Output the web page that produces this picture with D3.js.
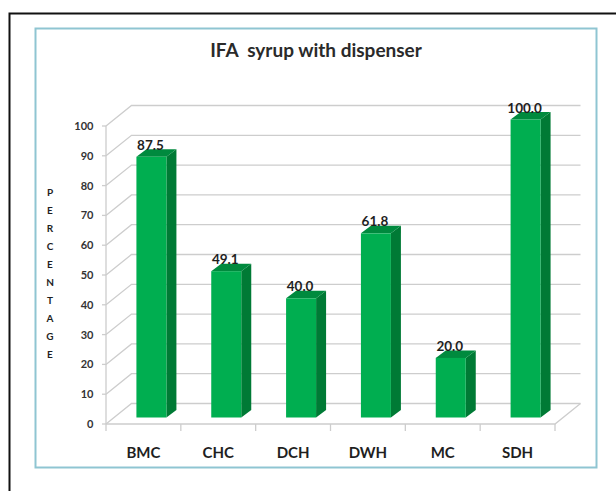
<!DOCTYPE html>
<html>
<head>
<meta charset="utf-8">
<script src="https://cdn.jsdelivr.net/npm/d3@7"></script>
<style>
  html, body { margin: 0; padding: 0; background: white; }
  svg { display: block; }
  text { font-family: Lato, "Open Sans", sans-serif; fill: #1f1f1f; }
</style>
</head>
<body>
<div id="chart"></div>
<script>
// values
const categories = ["BMC", "CHC", "DCH", "DWH", "MC", "SDH"];
const percentages = [87.5, 49.1, 40.0, 61.8, 20.0, 100.0];
const yTicks = [0, 10, 20, 30, 40, 50, 60, 70, 80, 90, 100];
const titleText = "IFA  syrup with dispenser";
const yAxisLabel = "PERCENTAGE";

const width = 616, height = 491;

const svg = d3.select("#chart")
  .append("svg")
  .attr("width", width)
  .attr("height", height);

// outer black frame runs off the right and bottom of the image
svg.append("path")
  .attr("d", `M${width},13.5 H9.5 V${height}`)
  .attr("fill", "none")
  .attr("stroke", "#111")
  .attr("stroke-width", 2);

// teal chart box
svg.append("rect")
  .attr("x", 35.5).attr("y", 28.5)
  .attr("width", 561).attr("height", 439)
  .attr("fill", "white")
  .attr("stroke", "#8fc5d2")
  .attr("stroke-width", 2);

// front plane of the fake 3D box
const x = d3.scaleBand().domain(categories).range([106, 555]);
const y = d3.scaleLinear().domain([0, 100]).range([424, 126]);

// depth of the chart floor, and of each bar
const wallDx = 25.5, wallDy = -20.5;
const barShift = { x: 8, y: -6.5 };
const barW = 30, barDx = 10, barDy = -7.5;

const grid = svg.append("g")
  .attr("fill", "none")
  .attr("stroke", "#cdcdcd")
  .attr("stroke-width", 1.3);

// back wall lines + diagonal on the left side
yTicks.forEach(t => {
  grid.append("path")
    .attr("d", `M106,${y(t)} L${106 + wallDx},${y(t) + wallDy} H${555 + wallDx}`);
});

// floor front edge and right diagonal
grid.append("path")
  .attr("d", `M106,${y(0)} H555 L${555 + wallDx},${y(0) + wallDy}`);
grid.append("path")
  .attr("d", `M106,${y(100)} V${y(0)}`);

// tick marks
yTicks.forEach(t => {
  grid.append("path").attr("d", `M102,${y(t)} H106`);
});
x.domain().concat("end").forEach((c, i) => {
  const px = 106 + i * x.step();
  grid.append("path").attr("d", `M${px},${y(0)} V${y(0) + 7}`);
});

// bars: front, side and top faces
const barX = d => x(d.cat) + (x.bandwidth() - barW) / 2 + barShift.x;
const barTop = d => y(d.val) + barShift.y;
const barBase = y(0) + barShift.y;

const rows = categories.map((cat, i) => ({ cat, val: percentages[i] }));

const bars = svg.selectAll(".bar")
  .data(rows)
  .enter().append("g")
  .attr("class", "bar");

bars.append("path")
  .attr("fill", "#007a35")
  .attr("d", d => `M${barX(d) + barW},${barTop(d)} l${barDx},${barDy} V${barBase + barDy} l${-barDx},${-barDy} Z`);

bars.append("path")
  .attr("fill", "#008a3e")
  .attr("d", d => `M${barX(d)},${barTop(d)} l${barDx},${barDy} h${barW} l${-barDx},${-barDy} Z`);

bars.append("rect")
  .attr("fill", "#00ae50")
  .attr("x", barX)
  .attr("y", barTop)
  .attr("width", barW)
  .attr("height", d => barBase - barTop(d));

// value labels
svg.selectAll(".value")
  .data(rows)
  .enter().append("text")
  .attr("class", "value")
  .attr("x", d => barX(d) + barW / 2 - 1)
  .attr("y", d => barTop(d) - 7)
  .attr("text-anchor", "middle")
  .attr("font-size", "13.5px")
  .attr("font-weight", 700)
  .text(d => d.val.toFixed(1));

// y tick labels
svg.selectAll(".ytick")
  .data(yTicks)
  .enter().append("text")
  .attr("class", "ytick")
  .attr("x", 93.5)
  .attr("y", d => y(d) + 4)
  .attr("text-anchor", "end")
  .attr("font-size", "11px")
  .attr("font-weight", 700)
  .style("fill", "#333")
  .text(d => d);

// category labels
svg.selectAll(".xlabel")
  .data(categories)
  .enter().append("text")
  .attr("class", "xlabel")
  .attr("x", d => x(d) + x.bandwidth() / 2)
  .attr("y", 458)
  .attr("text-anchor", "middle")
  .attr("font-size", "15px")
  .attr("font-weight", 700)
  .text(d => d);

// vertical axis title, one letter per row
svg.selectAll(".ylabel")
  .data(yAxisLabel.split(""))
  .enter().append("text")
  .attr("class", "ylabel")
  .attr("x", 50)
  .attr("y", (d, i) => 196 + i * 18)
  .attr("text-anchor", "middle")
  .attr("font-size", "10px")
  .attr("font-weight", 700)
  .text(d => d);

// title
svg.append("text")
  .attr("x", 316)
  .attr("y", 56.5)
  .attr("text-anchor", "middle")
  .attr("font-size", "19px")
  .attr("font-weight", 700)
  .style("white-space", "pre")
  .style("fill", "#2a2a2a")
  .text(titleText);
</script>
</body>
</html>
